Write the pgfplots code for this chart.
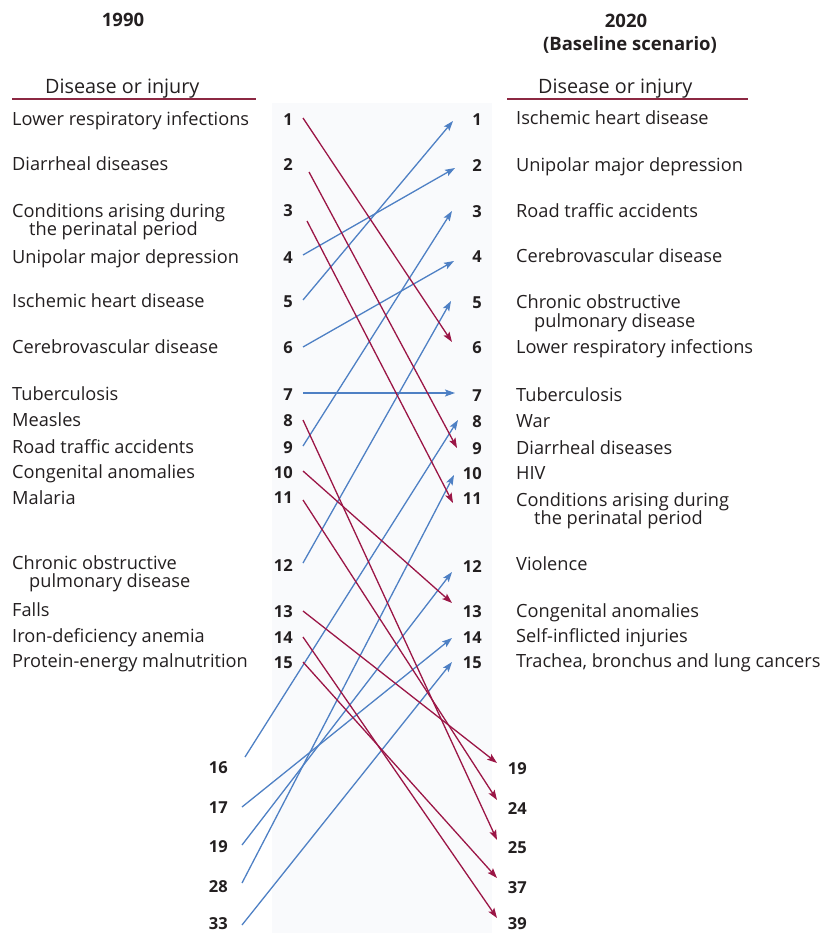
\documentclass[border=0pt]{standalone}
\usepackage{pgfplots}
\pgfplotsset{compat=1.18}
\usepackage{fontspec}
\setmainfont{Open Sans}
\usetikzlibrary{arrows.meta}
\definecolor{redline}{RGB}{155,22,70}
\definecolor{blueline}{RGB}{78,128,196}
\definecolor{rulecol}{RGB}{140,40,66}
\definecolor{txt}{RGB}{35,31,32}
\definecolor{bgtint}{RGB}{249,250,252}
\tikzset{
  lbl/.style={anchor=base west,inner sep=0pt,text=txt,font=\fontsize{18.2}{21}\selectfont},
  num/.style={anchor=base east,inner sep=0pt,text=txt,font=\fontsize{16.5}{19}\selectfont\bfseries},
  hd/.style={anchor=base,inner sep=0pt,text=txt,font=\fontsize{18.5}{21}\selectfont\bfseries},
  hdl/.style={anchor=base west,inner sep=0pt,text=txt,font=\fontsize{19.8}{23}\selectfont},
  up/.style={blueline,line width=1.3pt,-{Stealth[length=10pt,width=7pt,inset=2pt]}},
  down/.style={redline,line width=1.3pt,-{Stealth[length=10pt,width=7pt,inset=2pt]}},
}
\begin{document}
\begin{tikzpicture}
\begin{axis}[width=837pt,height=933pt,scale only axis,
  xmin=0,xmax=837,ymin=0,ymax=933,y dir=reverse,hide axis,clip=false]
\path (axis cs:0,0) rectangle (axis cs:837,933);
\fill[bgtint] (axis cs:272,103) rectangle (axis cs:492,933);
% headers
\node[hd] at (axis cs:123,27) {1990};
\node[hd] at (axis cs:626,28) {2020};
\node[hd] at (axis cs:630,51) {(Baseline scenario)};
\node[hdl] at (axis cs:45,94) {Disease or injury};
\node[hdl] at (axis cs:538,94) {Disease or injury};
\draw[rulecol,line width=2pt] (axis cs:12,99) -- (axis cs:256,99);
\draw[rulecol,line width=2pt] (axis cs:507,99) -- (axis cs:748,99);
% left labels (1990)
\node[lbl] at (axis cs:12,126) {Lower respiratory infections};
\node[lbl] at (axis cs:12,171) {Diarrheal diseases};
\node[lbl] at (axis cs:12,218) {Conditions arising during};
\node[lbl] at (axis cs:29,236) {the perinatal period};
\node[lbl] at (axis cs:12,263) {Unipolar major depression};
\node[lbl] at (axis cs:12,307) {Ischemic heart disease};
\node[lbl] at (axis cs:12,353) {Cerebrovascular disease};
\node[lbl] at (axis cs:12,400) {Tuberculosis};
\node[lbl] at (axis cs:12,426) {Measles};
\node[lbl] at (axis cs:12,453) {Road traffic accidents};
\node[lbl] at (axis cs:12,478) {Congenital anomalies};
\node[lbl] at (axis cs:12,504) {Malaria};
\node[lbl] at (axis cs:12,569) {Chronic obstructive};
\node[lbl] at (axis cs:29,587) {pulmonary disease};
\node[lbl] at (axis cs:12,616) {Falls};
\node[lbl] at (axis cs:12,642) {Iron-deficiency anemia};
\node[lbl] at (axis cs:12,667) {Protein-energy malnutrition};
% left ranks
\node[num] at (axis cs:293,126) {1};
\node[num] at (axis cs:293,171) {2};
\node[num] at (axis cs:293,217) {3};
\node[num] at (axis cs:293,263) {4};
\node[num] at (axis cs:293,307) {5};
\node[num] at (axis cs:293,353) {6};
\node[num] at (axis cs:293,400) {7};
\node[num] at (axis cs:293,426) {8};
\node[num] at (axis cs:293,453) {9};
\node[num] at (axis cs:293,478) {10};
\node[num] at (axis cs:293,503) {11};
\node[num] at (axis cs:293,571) {12};
\node[num] at (axis cs:293,617) {13};
\node[num] at (axis cs:293,643) {14};
\node[num] at (axis cs:293,668) {15};
\node[num] at (axis cs:228,773) {16};
\node[num] at (axis cs:228,813) {17};
\node[num] at (axis cs:228,852) {19};
\node[num] at (axis cs:228,892) {28};
\node[num] at (axis cs:228,929) {33};
% right ranks
\node[num] at (axis cs:482,126) {1};
\node[num] at (axis cs:482,172) {2};
\node[num] at (axis cs:482,218) {3};
\node[num] at (axis cs:482,262) {4};
\node[num] at (axis cs:482,308) {5};
\node[num] at (axis cs:482,353) {6};
\node[num] at (axis cs:482,401) {7};
\node[num] at (axis cs:482,427) {8};
\node[num] at (axis cs:482,454) {9};
\node[num] at (axis cs:482,479) {10};
\node[num] at (axis cs:482,504) {11};
\node[num] at (axis cs:482,572) {12};
\node[num] at (axis cs:482,617) {13};
\node[num] at (axis cs:482,643) {14};
\node[num] at (axis cs:482,668) {15};
\node[num] at (axis cs:527,774) {19};
\node[num] at (axis cs:527,814) {24};
\node[num] at (axis cs:527,853) {25};
\node[num] at (axis cs:527,893) {37};
\node[num] at (axis cs:527,929) {39};
% right labels (2020)
\node[lbl] at (axis cs:516,125) {Ischemic heart disease};
\node[lbl] at (axis cs:516,172) {Unipolar major depression};
\node[lbl] at (axis cs:516,218) {Road traffic accidents};
\node[lbl] at (axis cs:516,262) {Cerebrovascular disease};
\node[lbl] at (axis cs:516,308) {Chronic obstructive};
\node[lbl] at (axis cs:534,327) {pulmonary disease};
\node[lbl] at (axis cs:516,353) {Lower respiratory infections};
\node[lbl] at (axis cs:516,401) {Tuberculosis};
\node[lbl] at (axis cs:516,427) {War};
\node[lbl] at (axis cs:516,454) {Diarrheal diseases};
\node[lbl] at (axis cs:516,479) {HIV};
\node[lbl] at (axis cs:516,506) {Conditions arising during};
\node[lbl] at (axis cs:534,524) {the perinatal period};
\node[lbl] at (axis cs:516,570) {Violence};
\node[lbl] at (axis cs:516,617) {Congenital anomalies};
\node[lbl] at (axis cs:516,642) {Self-inflicted injuries};
\node[lbl] at (axis cs:516,667) {Trachea, bronchus and lung cancers};
% rising (blue)
\addplot[up] coordinates {(303,300) (453,121)};   % IHD 5 -> 1
\addplot[up] coordinates {(303,255) (455,168)};   % depression 4 -> 2
\addplot[up] coordinates {(303,446) (452,211)};   % road 9 -> 3
\addplot[up] coordinates {(303,347) (454,261)};   % cerebro 6 -> 4
\addplot[up] coordinates {(303,563) (451,301)};   % COPD 12 -> 5
\addplot[up] coordinates {(303,393) (455,393)};   % TB 7 -> 7
\addplot[up] coordinates {(245,757) (458,420)};   % war 16 -> 8
\addplot[up] coordinates {(242,883) (454,475)};   % HIV 28 -> 10
\addplot[up] coordinates {(242,845) (452,572)};   % violence 19 -> 12
\addplot[up] coordinates {(242,807) (452,638)};   % self-inflicted 17 -> 14
\addplot[up] coordinates {(242,925) (452,662)};   % trachea 33 -> 15
% falling (red)
\addplot[down] coordinates {(303,118) (452,342)}; % LRI 1 -> 6
\addplot[down] coordinates {(309,172) (457,448)}; % diarrheal 2 -> 9
\addplot[down] coordinates {(307,221) (453,503)}; % perinatal 3 -> 11
\addplot[down] coordinates {(303,471) (452,603)}; % congenital 10 -> 13
\addplot[down] coordinates {(303,420) (497,840)}; % measles 8 -> 25
\addplot[down] coordinates {(303,500) (497,800)}; % malaria 11 -> 24
\addplot[down] coordinates {(303,611) (497,763)}; % falls 13 -> 19
\addplot[down] coordinates {(303,637) (497,918)}; % iron 14 -> 39
\addplot[down] coordinates {(303,662) (497,878)}; % PEM 15 -> 37
\end{axis}
\end{tikzpicture}
\end{document}
